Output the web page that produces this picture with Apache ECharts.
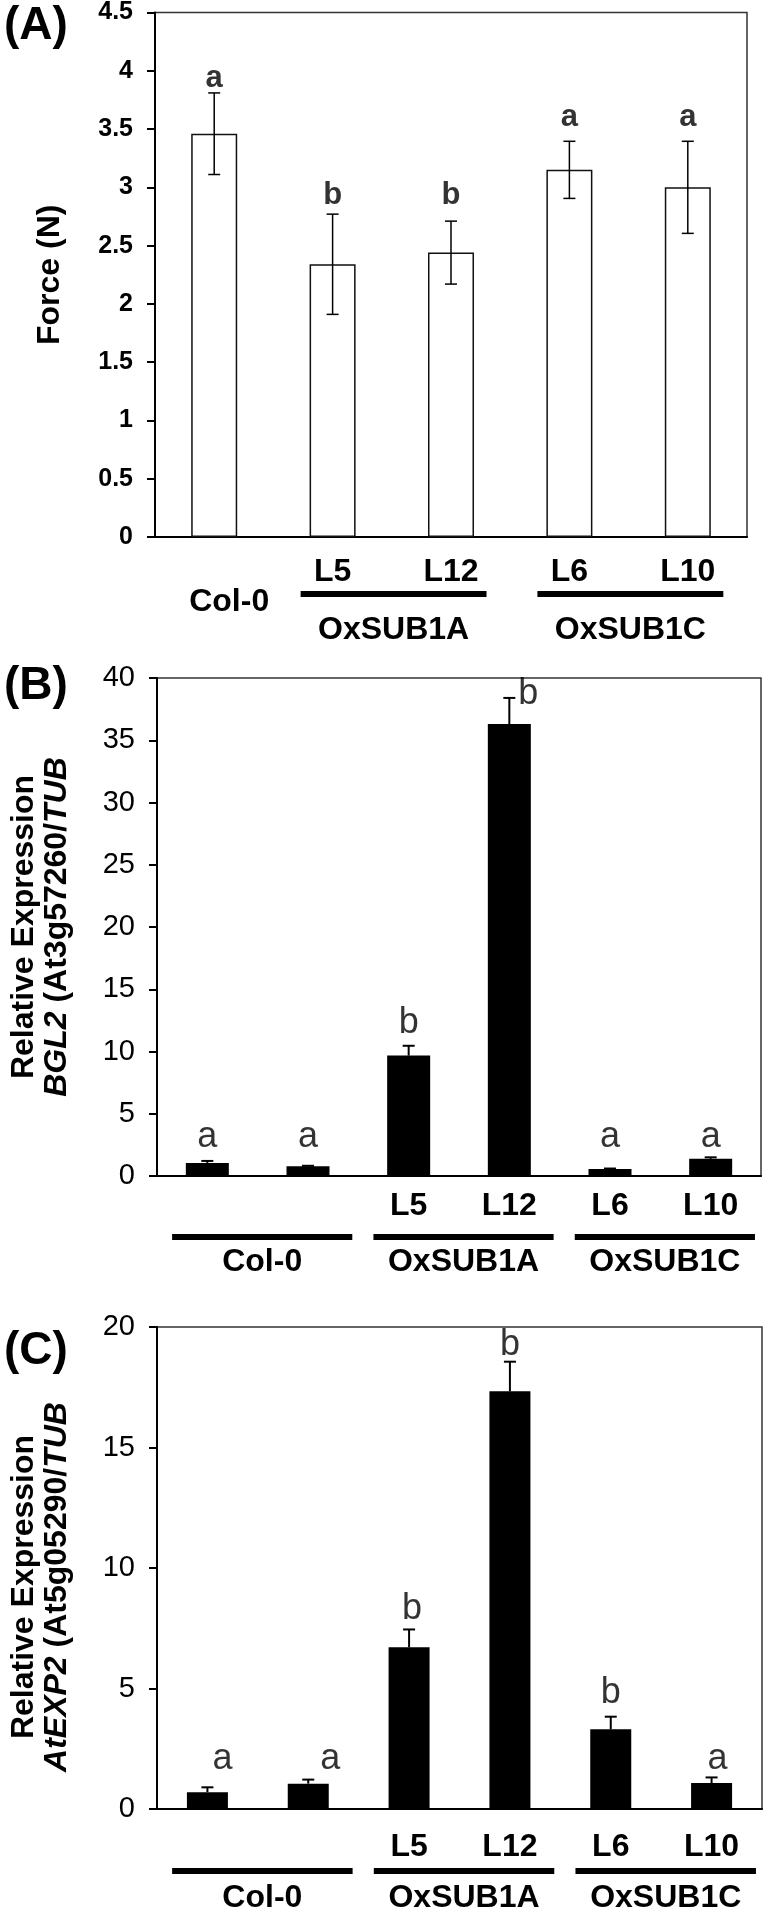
<!DOCTYPE html>
<html>
<head>
<meta charset="utf-8">
<script src="https://cdn.jsdelivr.net/npm/echarts@6/dist/echarts.min.js"></script>
<style>
  html, body { margin: 0; padding: 0; background: #fff; }
  #chart { width: 768px; height: 1914px; }
</style>
</head>
<body>
<div id="chart"></div>
<script>
const FONT = 'Liberation Sans, Arial, sans-serif'

// (A) force
const samplesA = ['Col-0', 'L5', 'L12', 'L6', 'L10']
const tickLabelsA = ['', 'L5', 'L12', 'L6', 'L10']
const forceMean = [3.46, 2.34, 2.44, 3.15, 3.00]
const forceSd = [0.35, 0.43, 0.27, 0.245, 0.395]
const lettersA = ['a', 'b', 'b', 'a', 'a']
const letterYA = [3.93, 2.93, 2.93, 3.6, 3.6]

// (B) BGL2 expression
const samplesBC = ['Col-0 #1', 'Col-0 #2', 'L5', 'L12', 'L6', 'L10']
const tickLabelsBC = ['', '', 'L5', 'L12', 'L6', 'L10']
const bgl2Mean = [1.05, 0.79, 9.67, 36.3, 0.56, 1.38]
const bgl2Sd = [0.16, 0.03, 0.79, 2.1, 0.04, 0.12]
const lettersB = ['a', 'a', 'b', 'b', 'a', 'a']
const letterYB = [3.1, 3.1, 12.3, 38.7, 3.1, 3.1]

// (C) AtEXP2 expression
const exp2Mean = [0.70, 1.05, 6.71, 17.33, 3.31, 1.08]
const exp2Sd = [0.20, 0.17, 0.74, 1.23, 0.52, 0.23]
const lettersC = ['a', 'a', 'b', 'b', 'b', 'a']
const letterYC = [2.07, 2.07, 8.3, 19.25, 4.8, 2.07]

const groupsA = [['OxSUB1A', 1, 2], ['OxSUB1C', 3, 4]]
const groupsBC = [['Col-0', 0, 1], ['OxSUB1A', 2, 3], ['OxSUB1C', 4, 5]]

const chart = echarts.init(document.getElementById('chart'))

function xAxis(i, data, labels, margin) {
  return {
    type: 'category', gridIndex: i, data,
    axisLine: { lineStyle: { color: '#000', width: 2 } },
    axisTick: { length: 9, lineStyle: { color: '#000', width: 2 } },
    axisLabel: {
      interval: 0, margin, formatter: (v, idx) => labels[idx],
      fontFamily: FONT, fontSize: 32, fontWeight: 'bold', color: '#000'
    }
  }
}

function yAxis(i, max, labelFont, name, nameGap, nameStyle) {
  return {
    type: 'value', gridIndex: i, min: 0, max, interval: max === 4.5 ? 0.5 : 5,
    name, nameLocation: 'middle', nameRotate: 90, nameGap, nameTextStyle: nameStyle,
    splitLine: { show: false },
    axisLine: { show: true, lineStyle: { color: '#000', width: 2 } },
    axisTick: { show: true, length: 8, lineStyle: { color: '#000', width: 2 } },
    axisLabel: Object.assign({ margin: 22, color: '#000', fontFamily: FONT }, labelFont)
  }
}

function errorBars(i, means, sds, both, lw) {
  return {
    type: 'custom', xAxisIndex: i, yAxisIndex: i, z: 5, silent: true,
    data: means.map((m, k) => [k, m + sds[k], both ? m - sds[k] : m]),
    renderItem: (params, api) => {
      const top = api.coord([api.value(0), api.value(1)])
      const bot = api.coord([api.value(0), api.value(2)])
      const hw = 6
      const st = { stroke: '#000', lineWidth: lw }
      const kids = [
        { type: 'line', shape: { x1: top[0], y1: top[1], x2: bot[0], y2: bot[1] }, style: st },
        { type: 'line', shape: { x1: top[0] - hw, y1: top[1], x2: top[0] + hw, y2: top[1] }, style: st }
      ]
      if (both) {
        kids.push({ type: 'line', shape: { x1: bot[0] - hw, y1: bot[1], x2: bot[0] + hw, y2: bot[1] }, style: st })
      }
      return { type: 'group', children: kids }
    }
  }
}

// significance letters, centred on the given value
function letterSeries(i, ys, letters, shifts, font) {
  return {
    type: 'scatter', xAxisIndex: i, yAxisIndex: i, symbolSize: 1, silent: true, z: 6,
    itemStyle: { color: 'rgba(0,0,0,0)' },
    data: ys.map((y, k) => ({ value: [k, y], label: { offset: [shifts[k], 0] } })),
    label: Object.assign({
      show: true, position: 'inside', color: '#000', fontFamily: FONT,
      formatter: p => letters[p.dataIndex]
    }, font)
  }
}

const boldName = { fontFamily: FONT, fontSize: 32, fontWeight: 'bold', color: '#000' }
function twoLineName(pad) {
  return {
    lineHeight: 33, padding: pad,
    rich: {
      n: { fontFamily: FONT, fontSize: 32, fontWeight: 'bold', color: '#000', lineHeight: 33 },
      i: { fontFamily: FONT, fontSize: 32, fontWeight: 'bold', fontStyle: 'italic', color: '#000', lineHeight: 33 }
    }
  }
}

const frame = { show: true, borderColor: '#333', borderWidth: 1.5 }

chart.setOption({
  animation: false,
  backgroundColor: '#fff',
  grid: [
    Object.assign({ left: 155, top: 12, width: 592, height: 525 }, frame),
    Object.assign({ left: 148, top: 678, width: 613, height: 498 }, frame),
    Object.assign({ left: 148, top: 1327, width: 614, height: 482 }, frame)
  ],
  xAxis: [
    xAxis(0, samplesA, tickLabelsA, 19),
    xAxis(1, samplesBC, tickLabelsBC, 14),
    xAxis(2, samplesBC, tickLabelsBC, 22)
  ],
  yAxis: [
    yAxis(0, 4.5, { fontSize: 25, fontWeight: 'bold' }, 'Force (N)', 89, boldName),
    yAxis(1, 40, { fontSize: 29 }, '{n|Relative Expression}\n{i|BGL2}{n| (At3g57260/}{i|TUB}', 83, twoLineName([0, 0, 0, 0])),
    yAxis(2, 20, { fontSize: 29 }, '{n|Relative Expression}\n{i|AtEXP2}{n| (At5g05290/}{i|TUB}', 83, twoLineName([0, 38, 0, 0]))
  ],
  series: [
    { type: 'bar', xAxisIndex: 0, yAxisIndex: 0, data: forceMean, barWidth: 46,
      itemStyle: { color: '#fff', borderColor: '#111', borderWidth: 1.5 } },
    errorBars(0, forceMean, forceSd, true, 1.5),
    letterSeries(0, letterYA, lettersA, [0, 0, 0, 0, 0], { fontSize: 31, fontWeight: 'bold' }),

    { type: 'bar', xAxisIndex: 1, yAxisIndex: 1, data: bgl2Mean, barWidth: 43, itemStyle: { color: '#000' } },
    errorBars(1, bgl2Mean, bgl2Sd, false, 2),
    letterSeries(1, letterYB, lettersB, [0, 0, 0, 19, 0, 0], { fontSize: 36 }),

    { type: 'bar', xAxisIndex: 2, yAxisIndex: 2, data: exp2Mean, barWidth: 41, itemStyle: { color: '#000' } },
    errorBars(2, exp2Mean, exp2Sd, false, 2),
    letterSeries(2, letterYC, lettersC, [15, 22, 3, 0, 0, 6], { fontSize: 36 })
  ]
})

// group underlines and names below each x axis
function groupMarks(i, groups, padL, padR, lineDy, textDy) {
  const px = k => chart.convertToPixel({ xAxisIndex: i }, k)
  const bw = px(1) - px(0)
  const y0 = chart.convertToPixel({ yAxisIndex: i }, 0)
  const out = []
  groups.forEach(([name, a, b]) => {
    const x1 = px(a) - padL * bw
    const x2 = px(b) + padR * bw
    out.push({ type: 'rect', shape: { x: x1, y: y0 + lineDy - 3, width: x2 - x1, height: 6 }, style: { fill: '#000' } })
    out.push({ type: 'text', x: (x1 + x2) / 2, y: y0 + textDy,
      style: { text: name, fill: '#000', fontFamily: FONT, fontSize: 32, fontWeight: 'bold', align: 'center', verticalAlign: 'middle' } })
  })
  return out
}

function panelTag(text, y) {
  return { type: 'text', x: 4, y,
    style: { text, fill: '#000', fontFamily: FONT, fontSize: 46, fontWeight: 'bold', align: 'left', verticalAlign: 'middle' } }
}

const colX = chart.convertToPixel({ xAxisIndex: 0 }, 0) + 15
const baseA = chart.convertToPixel({ yAxisIndex: 0 }, 0)

chart.setOption({
  graphic: [].concat(
    groupMarks(0, groupsA, 0.27, 0.30, 57, 93),
    [{ type: 'text', x: colX, y: baseA + 65,
      style: { text: 'Col-0', fill: '#000', fontFamily: FONT, fontSize: 32, fontWeight: 'bold', align: 'center', verticalAlign: 'middle' } }],
    groupMarks(1, groupsBC, 0.35, 0.44, 61, 86),
    groupMarks(2, groupsBC, 0.35, 0.44, 62, 89),
    [panelTag('(A)', 26), panelTag('(B)', 686), panelTag('(C)', 1351)]
  )
})
</script>
</body>
</html>
